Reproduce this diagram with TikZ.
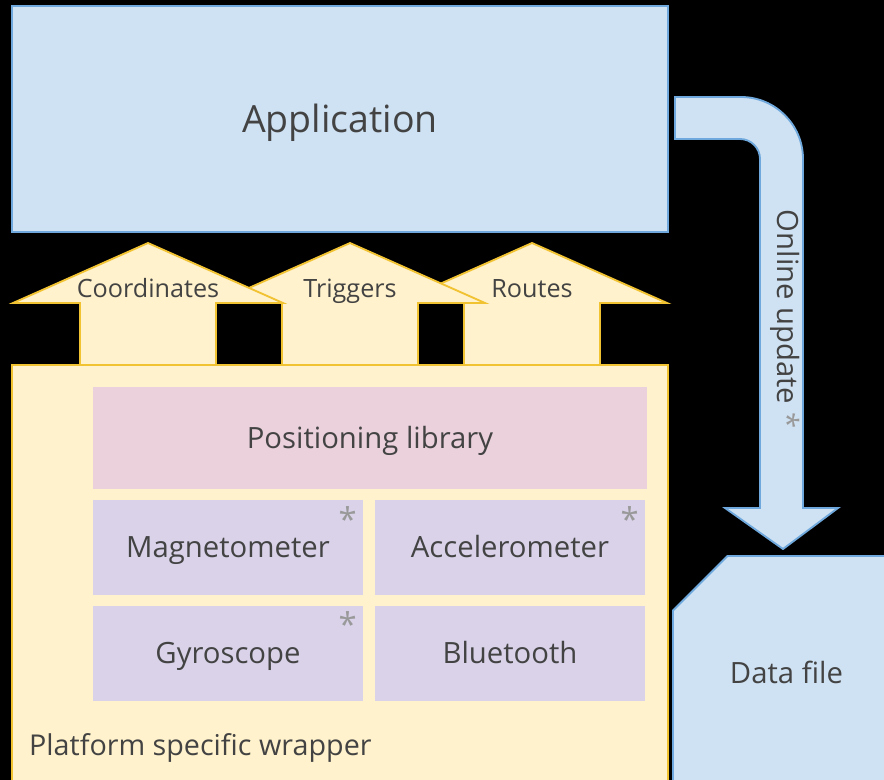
\documentclass[tikz,border=0pt]{standalone}
\usepackage{fontspec}
\setmainfont{Open Sans}
\usepackage{xcolor}
\usepackage{tikz}
\usetikzlibrary{positioning}
\usetikzlibrary{shapes,shapes.misc}
\definecolor{appblue}{HTML}{CFE2F3}
\definecolor{appline}{HTML}{6FA8DC}
\definecolor{wrapfill}{HTML}{FFF2CC}
\definecolor{wrapline}{HTML}{F1C232}
\definecolor{libpink}{HTML}{EAD1DC}
\definecolor{sensfill}{HTML}{D9D2E9}
\definecolor{txtgray}{HTML}{434343}
\definecolor{stargray}{HTML}{999999}

\begin{document}
\begin{tikzpicture}[x=0.3mm,y=-0.3mm,
  every node/.style={text=txtgray},
  bigtxt/.style={font=\fontsize{32}{38}\selectfont,text height=22.8pt,text depth=0pt},
  boxtxt/.style={font=\fontsize{25}{30}\selectfont,text height=17.85pt,text depth=0pt},
  arrowtxt/.style={font=\fontsize{21.5}{26}\selectfont,text height=15.35pt,text depth=0pt},
  bluebox/.style={draw=appline,fill=appblue,line width=1.6pt},
  yellowbox/.style={draw=wrapline,fill=wrapfill,line width=1.6pt},
  sensor/.style={boxtxt,fill=sensfill,minimum width=81mm,minimum height=28.5mm},
  star/.style={label={[anchor=north east,text=stargray,font=\fontsize{28}{30}\selectfont,inner sep=1.9mm]north east:*}}]
\useasboundingbox (0,0) rectangle (884,780);
\fill[black] (0,0) rectangle (884,780);
\clip (0,0) rectangle (884,780);
\node[bluebox,bigtxt,minimum width=196.8mm,minimum height=67.8mm] (app) at (340,119) {Application};
% arrows up into the application
\foreach \cx/\txt in {532/Routes, 350/Triggers, 148/Coordinates} {
  \draw[yellowbox] (\cx-68,368) -- (\cx-68,303) -- (\cx-135,303) -- (\cx,243) -- (\cx+135,303) -- (\cx+68,303) -- (\cx+68,368);
  \node[arrowtxt] (lbl\txt) at (\cx,289) {\txt};
}
\node[yellowbox,minimum width=196.8mm,minimum height=127.5mm] (wrapper) at (340,577.5) {};
\node[boxtxt,anchor=west,font=\fontsize{24.5}{30}\selectfont] (wraptxt) at (25,745) {Platform specific wrapper};
\node[boxtxt,fill=libpink,minimum width=166.2mm,minimum height=30.6mm] (lib) at (370,438) {Positioning library};
\node[sensor,star] (mag) at (228,547.5) {Magnetometer};
\node[sensor,star] (acc) at (510,547.5) {Accelerometer};
\node[sensor,star] (gyro) at (228,653) {Gyroscope};
\node[sensor] (blue) at (510,653) {Bluetooth};
% update arrow down to the data file
\draw[bluebox] (675,97) -- (741,97) arc[start angle=90,end angle=0,radius=18.6mm] -- (803,508) -- (838,508) -- (783,549) -- (725,508) -- (760,508) -- (760,159) arc[start angle=0,end angle=90,radius=6mm] -- (675,139) -- cycle;
\node[boxtxt,rotate=-90] (update) at (788,319) {Online update \textcolor{stargray}{*}};
\node[bluebox,boxtxt,chamfered rectangle,chamfered rectangle corners=north west,chamfered rectangle sep=13.2mm,minimum width=68.1mm,minimum height=70.2mm,inner sep=0pt] (data) at (786.5,673) {Data file};
\end{tikzpicture}
\end{document}
